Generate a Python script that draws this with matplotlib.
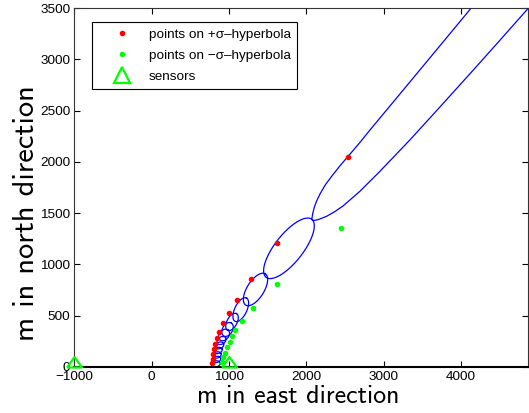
import numpy as np
import matplotlib
matplotlib.use("Agg")
import matplotlib.pyplot as plt
from matplotlib.lines import Line2D

plt.rcParams['font.family'] = ['Liberation Sans', 'DejaVu Sans']

# sensors (east, north) in m
sensor_x = [-1000, 1000]
sensor_y = [0, 0]

# points on the +sigma / -sigma hyperbola
plus_x = [2537, 1626, 1281, 1108, 1000, 919, 871, 841, 819, 806, 797, 790, 784]
plus_y = [2050, 1206, 855, 653, 524, 426, 344, 280, 224, 173, 127, 78, 36]
minus_x = [2450, 1626, 1315, 1165, 1080, 1040, 1010, 980, 950, 925, 905]
minus_y = [1352, 806, 578, 448, 358, 302, 246, 196, 141, 93, 45]

# closed conics along the hyperbola: centre (m), half axes as drawn, tilt (deg)
ell_cx = [1776, 1343, 1152, 1039, 981, 936, 903, 878, 858, 845, 839, 832]
ell_cy = [1157, 756, 559, 439, 366, 312, 258, 210, 161, 117, 73, 29]
ell_a = [478, 239, 168, 123, 97, 84, 65, 58, 56, 56, 56, 56]
ell_b = [181, 110, 78, 65, 65, 61, 45, 41, 39, 39, 39, 39]
ell_ang = [51.8, 58, 64, 62, 60, 50, 35, 25, 20, 20, 20, 20]

# open (hyperbolic) branch of the outermost conic
upper_x = [2071, 2085, 2105, 2135, 2180, 2250, 2340, 2440, 2537, 2690, 2824, 3100, 3381, 3750, 4157]
upper_y = [1440, 1500, 1560, 1620, 1690, 1780, 1870, 1965, 2050, 2185, 2310, 2560, 2815, 3150, 3520]
lower_x = [2071, 2080, 2100, 2150, 2260, 2370, 2476, 2690, 2950, 3343, 3700, 4114, 4500, 4900]
lower_y = [1440, 1432, 1428, 1436, 1468, 1515, 1570, 1710, 1905, 2215, 2510, 2855, 3180, 3520]

fig = plt.figure(figsize=(5.29, 4.13), dpi=100)
ax = fig.add_axes([0.1408, 0.1114, 0.8573, 0.8692])
ax.set_xlim(-1000, 4870)
ax.set_ylim(0, 3500)

# pixels per metre differ on x and y: build the ellipses in screen proportions
bb = ax.get_position()
k = (bb.height * 413 / 3500) / (bb.width * 529 / 5870)

t = np.linspace(0, 2 * np.pi, 240)
for cx, cy, a, b, ang in zip(ell_cx, ell_cy, ell_a, ell_b, ell_ang):
    p = np.deg2rad(ang)
    ex = cx + a * np.cos(t) * np.cos(p) - b * np.sin(t) * np.sin(p)
    ey = cy + (a * np.cos(t) * np.sin(p) + b * np.sin(t) * np.cos(p)) / k
    ax.plot(ex, ey, color='#0000ff', lw=0.9)
ax.plot(upper_x, upper_y, color='#0000ff', lw=0.9)
ax.plot(lower_x, lower_y, color='#0000ff', lw=0.9)

ax.plot(plus_x, plus_y, '.', color='#ff0000', ms=6)
ax.plot(minus_x, minus_y, '.', color='#00ff00', ms=6)

# triangle with its base on the sensor position
tri = [(-1, 0), (1, 0), (0, 1.4), (-1, 0)]
ax.plot(sensor_x, sensor_y, linestyle='none', marker=tri, ms=15, mfc='none',
        mec='#00ff00', mew=1.6, clip_on=False, zorder=5)

ax.set_xticks(np.arange(-1000, 4001, 1000))
ax.set_yticks(np.arange(0, 3501, 500))
ax.tick_params(direction='in', length=4, width=0.8, labelsize=9.7,
               top=True, right=True, pad=3)
for s in ax.spines.values():
    s.set_linewidth(0.8)
    s.set_color('#333333')
ax.spines['bottom'].set_linewidth(1.5)
ax.spines['bottom'].set_color('black')

ax.set_xlabel('m in east direction', fontfamily='cmss10', fontsize=18.7)
ax.set_ylabel('m in north direction', fontfamily='cmss10', fontsize=22)
ax.xaxis.set_label_coords(0.494, -0.05)
ax.yaxis.set_label_coords(-0.076, 0.429)

handles = [
    Line2D([], [], linestyle='none', marker='.', color='#ff0000', ms=6),
    Line2D([], [], linestyle='none', marker='.', color='#00ff00', ms=6),
    Line2D([], [], linestyle='none', marker='^', ms=11, mfc='none',
           mec='#00ff00', mew=1.6),
]
labels = ['points on +\u03c3\u2013hyperbola', 'points on \u2212\u03c3\u2013hyperbola', 'sensors']
leg = ax.legend(handles, labels, loc='upper left', bbox_to_anchor=(0.039, 0.961),
                borderaxespad=0, fontsize=9.7, fancybox=False, framealpha=1,
                edgecolor='black', handlelength=3.6, handletextpad=0.15,
                labelspacing=0.65, borderpad=0.45)
leg.get_frame().set_linewidth(0.8)

fig.savefig('out.png', dpi=100)
